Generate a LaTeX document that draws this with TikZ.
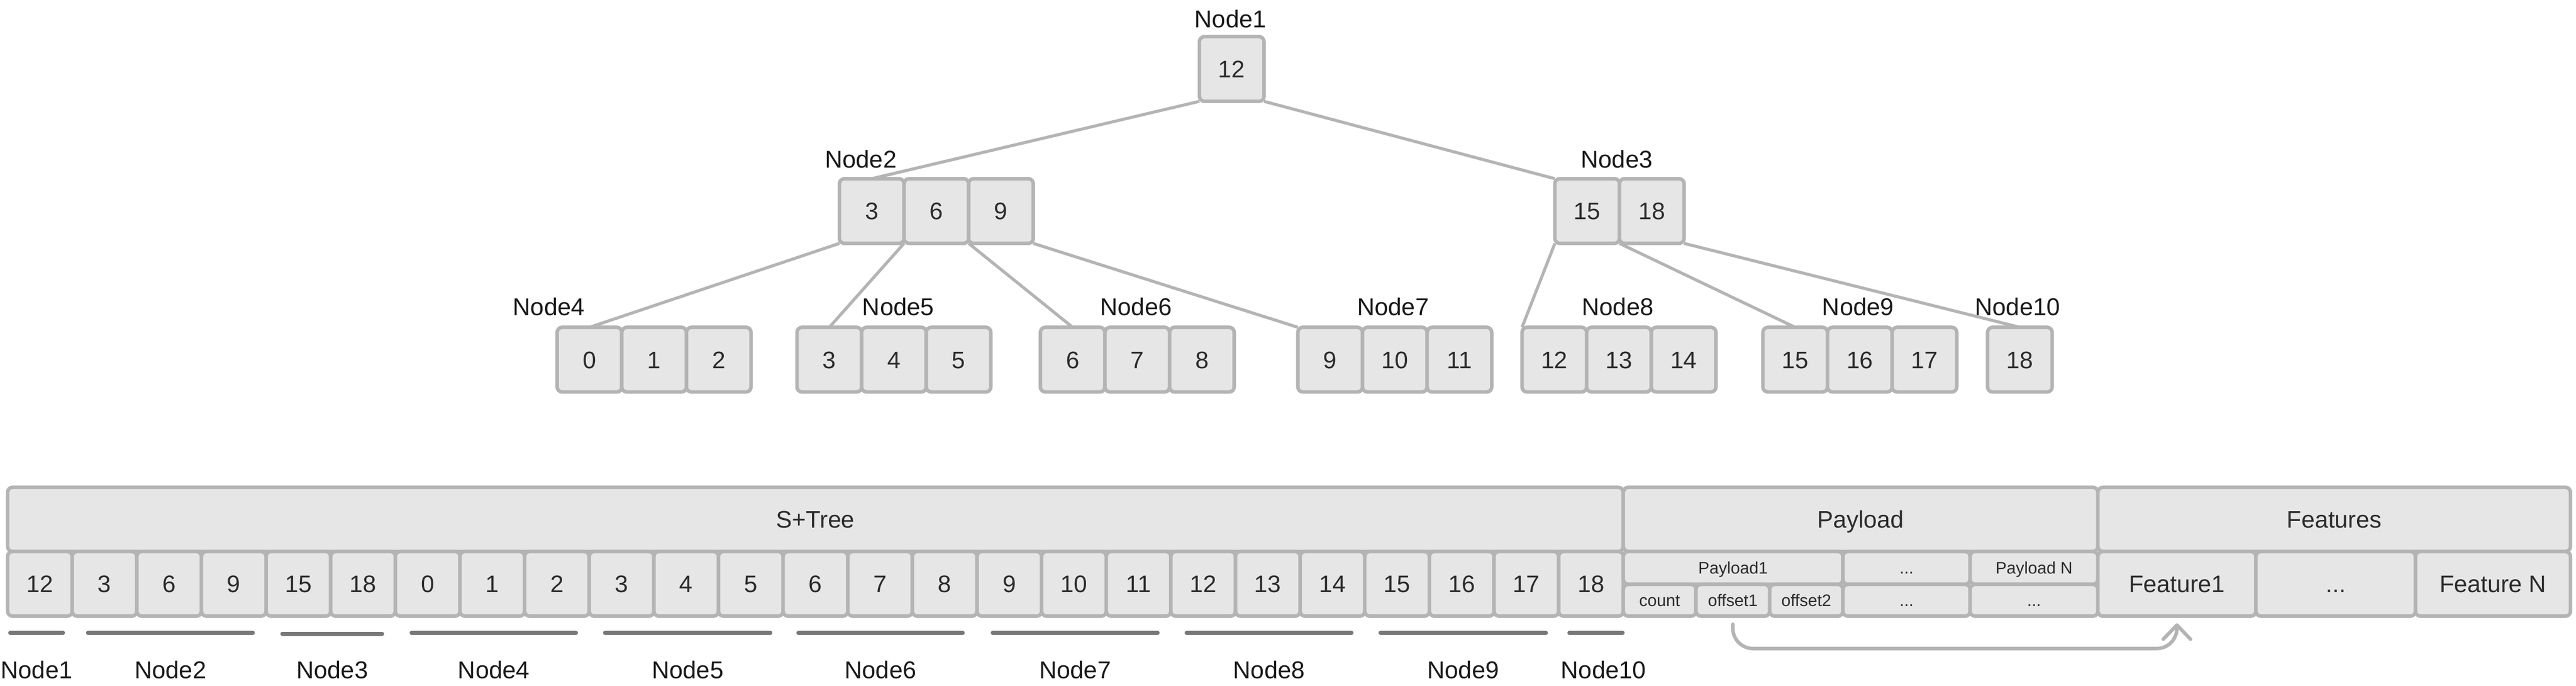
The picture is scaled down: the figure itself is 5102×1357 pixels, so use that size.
\documentclass[tikz,border=0pt]{standalone}
\usepackage{fontspec}
\setmainfont{Liberation Sans}
\usetikzlibrary{arrows.meta,backgrounds,calc}
\definecolor{boxfill}{HTML}{E6E6E6}
\definecolor{boxline}{HTML}{B4B4B4}
\definecolor{boxtext}{HTML}{2B2B2B}
\definecolor{tagtext}{HTML}{1A1A1A}
\definecolor{barline}{HTML}{777777}
\begin{document}
\begin{tikzpicture}[x=0.1mm, y=-0.1mm,
    key/.style={draw=boxline, fill=boxfill, line width=0.7mm, rounded corners=1mm,
        minimum width=12.8mm, minimum height=12.8mm, inner sep=0pt, outer sep=0pt,
        text=boxtext, font=\fontsize{13.5}{16}\selectfont, text height=9.7pt, text depth=0pt},
    small/.style={key, font=\fontsize{9.4}{11}\selectfont, text height=6.7pt},
    tag/.style={text=tagtext, inner sep=0pt, font=\fontsize{13.7}{16}\selectfont,
        text height=9.8pt, text depth=0pt},
    link/.style={draw=boxline, line width=0.6mm},
    bar/.style={draw=barline, line width=0.75mm, line cap=round}]
    \useasboundingbox (0,0) rectangle (5102,1357);

    \node[key] (n1) at (2439.5,136.5) {12};
    \node[tag] (t1) at (2437,37) {Node1};

    \node[key] (n2a) at (1726.5,417.5) {3};
    \node[key] (n2b) at (1854.5,417.5) {6};
    \node[key] (n2c) at (1982.5,417.5) {9};
    \node[tag] (t2) at (1705,315) {Node2};

    \node[key] (n3a) at (3143.5,417.5) {15};
    \node[key] (n3b) at (3271.5,417.5) {18};
    \node[tag] (t3) at (3202,315) {Node3};

    \node[key] (n4a) at (1167.5,711.5) {0};
    \node[key] (n4b) at (1295.5,711.5) {1};
    \node[key] (n4c) at (1423.5,711.5) {2};
    \node[tag] (t4) at (1087,607) {Node4};

    \node[key] (n5a) at (1642.5,711.5) {3};
    \node[key] (n5b) at (1770.5,711.5) {4};
    \node[key] (n5c) at (1898.5,711.5) {5};
    \node[tag] (t5) at (1779,607) {Node5};

    \node[key] (n6a) at (2124.5,711.5) {6};
    \node[key] (n6b) at (2252.5,711.5) {7};
    \node[key] (n6c) at (2380.5,711.5) {8};
    \node[tag] (t6) at (2250,607) {Node6};

    \node[key] (n7a) at (2634.5,711.5) {9};
    \node[key] (n7b) at (2762.5,711.5) {10};
    \node[key] (n7c) at (2890.5,711.5) {11};
    \node[tag] (t7) at (2759,607) {Node7};

    \node[key] (n8a) at (3078.5,711.5) {12};
    \node[key] (n8b) at (3206.5,711.5) {13};
    \node[key] (n8c) at (3334.5,711.5) {14};
    \node[tag] (t8) at (3204,607) {Node8};

    \node[key] (n9a) at (3555.5,711.5) {15};
    \node[key] (n9b) at (3683.5,711.5) {16};
    \node[key] (n9c) at (3811.5,711.5) {17};
    \node[tag] (t9) at (3680,607) {Node9};

    \node[key] (n10) at (4000.5,711.5) {18};
    \node[tag] (t10) at (3996,607) {Node10};

    \begin{scope}[on background layer]
        \draw[link] (n1.south west) -- (n2a.north);
        \draw[link] (n1.south east) -- (n3a.north west);
        \draw[link] (n2a.south west) -- (n4a.north);
        \draw[link] (n2a.south east) -- (n5a.north);
        \draw[link] (n2c.south west) -- (n6a.north);
        \draw[link] (n2c.south east) -- (n7a.north west);
        \draw[link] (n3a.south west) -- (n8a.north west);
        \draw[link] (n3a.south east) -- (n9a.north);
        \draw[link] (n3b.south east) -- (n10.north);
    \end{scope}

    \node[key, minimum width=320mm, minimum height=12.7mm] (stree) at (1615,1027.5) {S+Tree};
    \node[key, minimum width=94mm, minimum height=12.7mm] (payload) at (3685,1027.5) {Payload};
    \node[key, minimum width=93.6mm, minimum height=12.7mm] (features) at (4623,1027.5) {Features};

    \foreach \v [count=\i from 0] in {12,3,6,9,15,18,0,1,2,3,4,5,6,7,8,9,10,11,12,13,14,15,16,17,18}
        \node[key] (c\i) at (79+128*\i,1155) {\v};

    \node[small, minimum width=43.5mm, minimum height=6.5mm] (p1) at (3432.5,1123.5) {Payload1};
    \node[small, minimum width=25.2mm, minimum height=6.5mm] (pdots) at (3776,1123.5) {...};
    \node[small, minimum width=25.3mm, minimum height=6.5mm] (pn) at (4028.5,1123.5) {Payload N};
    \node[small, minimum width=14.4mm, minimum height=6.3mm] (cnt) at (3287,1187.5) {count};
    \node[small, minimum width=14.6mm, minimum height=6.3mm] (off1) at (3432,1187.5) {offset1};
    \node[small, minimum width=14.5mm, minimum height=6.3mm] (off2) at (3577.5,1187.5) {offset2};
    \node[small, minimum width=25.2mm, minimum height=6.3mm] (odots) at (3776,1187.5) {...};
    \node[small, minimum width=25.3mm, minimum height=6.3mm] (ndots) at (4028.5,1187.5) {...};

    \node[key, minimum width=31.3mm] (f1) at (4311.5,1155) {Feature1};
    \node[key, minimum width=31.6mm] (fdots) at (4626,1155) {...};
    \node[key, minimum width=30.7mm] (fn) at (4937.5,1155) {Feature N};

    \draw[bar] (20,1252) -- node[tag, below=5.2mm] (b1) {Node1} (125,1252);
    \draw[bar] (174,1252) -- node[tag, below=5.2mm] (b2) {Node2} (501,1252);
    \draw[bar] (559,1254) -- node[tag, below=5mm] (b3) {Node3} (757,1254);
    \draw[bar] (815,1252) -- node[tag, below=5.2mm] (b4) {Node4} (1141,1252);
    \draw[bar] (1198,1252) -- node[tag, below=5.2mm] (b5) {Node5} (1526,1252);
    \draw[bar] (1581,1252) -- node[tag, below=5.2mm] (b6) {Node6} (1907,1252);
    \draw[bar] (1966,1252) -- node[tag, below=5.2mm] (b7) {Node7} (2293,1252);
    \draw[bar] (2350,1252) -- node[tag, below=5.2mm] (b8) {Node8} (2677,1252);
    \draw[bar] (2734,1252) -- node[tag, below=5.2mm] (b9) {Node9} (3062,1252);
    \draw[bar] (3108,1252) -- node[tag, below=5.2mm, xshift=1.5mm] (b10) {Node10} (3214,1252);

    \draw[link, line width=0.7mm, line cap=round, rounded corners=4mm,
        -{Straight Barb[length=2.8mm, width=5.4mm, round]}]
        ($(off1.south)+(0,16)$) -- ($(off1.south)+(0,64)$) -- ($(f1.south)+(0,64)$) -- ($(f1.south)+(0,14)$);
\end{tikzpicture}
\end{document}
